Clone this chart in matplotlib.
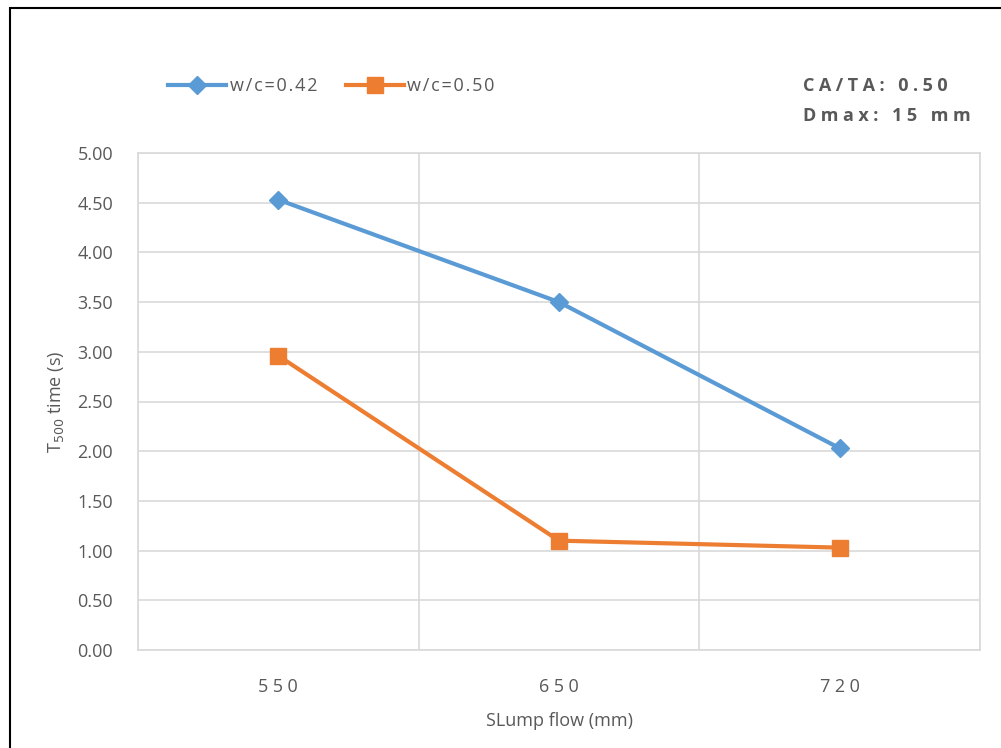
import matplotlib
matplotlib.use('Agg')
import matplotlib.pyplot as plt
from matplotlib.patches import Rectangle
import numpy as np

# data
slump_flow = ['550', '650', '720']
t500_042 = [4.53, 3.50, 2.03]
t500_050 = [2.96, 1.10, 1.03]
yticks = [0.0, 0.5, 1.0, 1.5, 2.0, 2.5, 3.0, 3.5, 4.0, 4.5, 5.0]
notes = ['CA/TA: 0.50', 'Dmax: 15 mm']
labels = ['w/c=0.42', 'w/c=0.50']

W, H = 1001, 748
plt.rcParams['font.family'] = ['Open Sans', 'DejaVu Sans']

def spaced(s, gap):
    # fake letter spacing like the excel labels
    return gap.join(s)

fig = plt.figure(figsize=(W/100, H/100), dpi=100)
ax = fig.add_axes([138/W, 1-650/H, (980-138)/W, (650-153)/H])

# outer black frame (cropped on right and bottom)
fig.patches.append(Rectangle((10/W, -0.1), 1.2, 1-8/H+0.1, transform=fig.transFigure,
                             fill=False, edgecolor='black', linewidth=1.5))

x = np.arange(len(slump_flow))
blue = '#5b9bd5'
orange = '#ed7d31'
ax.plot(x, t500_042, color=blue, linewidth=3, marker='D', markersize=9,
        label=spaced(labels[0], '\u200a'), zorder=3)
ax.plot(x, t500_050, color=orange, linewidth=3, marker='s', markersize=12,
        label=spaced(labels[1], '\u200a'), zorder=3)

ax.set_xlim(-0.5, len(slump_flow)-0.5)
ax.set_ylim(0, 5)
ax.set_yticks(yticks)
ax.set_yticklabels(['%.2f' % v for v in yticks])
ax.set_xticks(x)
ax.set_xticklabels([spaced(s, '\u2005') for s in slump_flow])
ax.set_xticks(np.arange(len(slump_flow)+1)-0.5, minor=True)

grid_c = '#d9d9d9'
ax.grid(True, axis='y', color=grid_c, linewidth=1.2)
ax.grid(True, axis='x', which='minor', color=grid_c, linewidth=1.2)
ax.grid(False, axis='x', which='major')
ax.set_axisbelow(True)
for s in ax.spines.values():
    s.set_color(grid_c)
    s.set_linewidth(1.2)
ax.tick_params(which='both', length=0)
ax.tick_params(axis='y', labelsize=13, labelcolor='#595959', pad=18)
ax.tick_params(axis='x', labelsize=13, labelcolor='#595959', pad=20)

ax.set_xlabel('SLump flow (mm)', fontsize=13, color='#595959', labelpad=12)
ax.set_ylabel(r'T$_{500}$ time (s)', fontsize=13, color='#595959', labelpad=8)

leg = ax.legend(loc='center left', bbox_to_anchor=(152/W, 1-86/H), bbox_transform=fig.transFigure,
                ncol=2, frameon=False, fontsize=13, handlelength=3.2, handletextpad=0.2,
                columnspacing=1.6, labelcolor='#595959')

fig.text(803/W, 1-86/H, spaced(notes[0], '\u2005'), fontsize=13, fontweight='bold',
         color='#595959', va='center', ha='left')
fig.text(803/W, 1-116/H, spaced(notes[1], '\u2005'), fontsize=13, fontweight='bold',
         color='#595959', va='center', ha='left')

fig.savefig('out.png', dpi=100)
